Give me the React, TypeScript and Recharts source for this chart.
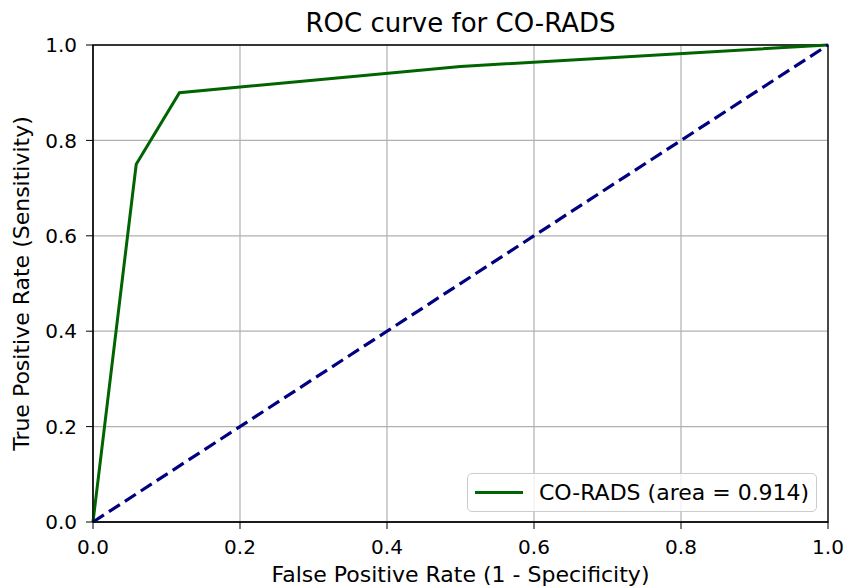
import {
  Line,
  LineChart,
  CartesianGrid,
  XAxis,
  YAxis,
  ReferenceArea,
  Label,
} from "recharts";

// ROC points (FPR, TPR)
const fpr = [0, 0.0588, 0.1176, 0.5, 1];
const tpr = [0, 0.75, 0.9, 0.955, 1];
const chanceX = [0, 1];
const chanceY = [0, 1];
const ticks = [0, 0.2, 0.4, 0.6, 0.8, 1];

const roc = fpr.map((x, i) => ({ x, y: tpr[i] }));
const chance = chanceX.map((x, i) => ({ x, y: chanceY[i] }));

const font = "'DejaVu Sans', sans-serif";
const tickStyle = { fill: "#000", fontSize: 20, fontFamily: font };

export default function App() {
  return (
    <div style={{ position: "absolute", left: 0, top: 0, width: 846, height: 588, background: "#fff" }}>
      <div
        style={{
          position: "absolute",
          left: 93,
          width: 735,
          top: 10,
          textAlign: "center",
          fontFamily: font,
          fontSize: 26,
          lineHeight: "26px",
          color: "#000",
        }}
      >
        ROC curve for CO-RADS
      </div>
      <LineChart width={846} height={588} margin={{ top: 45, right: 18, bottom: 30, left: 0 }}>
        <CartesianGrid stroke="#b0b0b0" strokeWidth={1.2} horizontalValues={ticks} verticalValues={ticks} />
        <XAxis
          dataKey="x"
          type="number"
          domain={[0, 1]}
          ticks={ticks}
          tickFormatter={(v: number) => v.toFixed(1)}
          tick={tickStyle}
          tickSize={7}
          tickMargin={11}
          height={36}
          stroke="#000"
        >
          <Label
            content={({ viewBox }: any) => (
              <text
                x={viewBox.x + viewBox.width / 2}
                y={582}
                textAnchor="middle"
                fontSize={22}
                fontFamily={font}
                fill="#000"
              >
                False Positive Rate (1 - Specificity)
              </text>
            )}
          />
        </XAxis>
        <YAxis
          dataKey="y"
          type="number"
          domain={[0, 1]}
          ticks={ticks}
          tickFormatter={(v: number) => v.toFixed(1)}
          tick={tickStyle}
          tickSize={7}
          tickMargin={9}
          width={93}
          stroke="#000"
        >
          <Label
            content={({ viewBox }: any) => {
              const cy = viewBox.y + viewBox.height / 2;
              return (
                <text
                  x={29}
                  y={cy}
                  transform={`rotate(-90, 29, ${cy})`}
                  textAnchor="middle"
                  fontSize={22}
                  fontFamily={font}
                  fill="#000"
                >
                  True Positive Rate (Sensitivity)
                </text>
              );
            }}
          />
        </YAxis>
        <Line
          data={roc}
          dataKey="y"
          stroke="#006400"
          strokeWidth={3}
          dot={false}
          activeDot={false}
          isAnimationActive={false}
          type="linear"
        />
        <Line
          data={chance}
          dataKey="y"
          stroke="#000080"
          strokeWidth={3.2}
          strokeDasharray="13 6"
          dot={false}
          activeDot={false}
          isAnimationActive={false}
          type="linear"
        />
        <ReferenceArea x1={0} x2={1} y1={0} y2={1} fill="none" stroke="#000" strokeWidth={1.3} />
      </LineChart>
      <div
        style={{
          position: "absolute",
          left: 467,
          top: 473,
          width: 350,
          height: 39,
          boxSizing: "border-box",
          border: "1px solid #cccccc",
          borderRadius: 5,
          background: "rgba(255,255,255,0.8)",
          display: "flex",
          alignItems: "center",
          fontFamily: font,
          fontSize: 22,
          color: "#000",
        }}
      >
        <span style={{ display: "inline-block", width: 48, height: 3, background: "#006400", marginLeft: 7, marginRight: 16 }} />
        <span>CO-RADS (area = 0.914)</span>
      </div>
    </div>
  );
}
